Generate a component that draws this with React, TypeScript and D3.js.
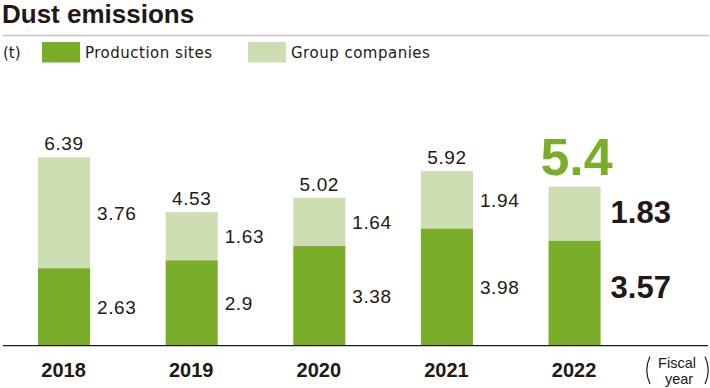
import React from 'react';
import * as d3 from 'd3';

// Fiscal years and series values (t)
const years = ['2018', '2019', '2020', '2021', '2022'];
const productionSites = [2.63, 2.9, 3.38, 3.98, 3.57];
const groupCompanies = [3.76, 1.63, 1.64, 1.94, 1.83];
const totals = ['6.39', '4.53', '5.02', '5.92', '5.4'];

const seriesNames = ['Production sites', 'Group companies'];
const seriesColors = ['#7aae2a', '#cddfb2'];

const ink = '#231815';
const numFont = '"Liberation Sans", Arial, sans-serif';
const labelFont = '"DejaVu Sans", Verdana, sans-serif';

function App() {
  const width = 710;
  const height = 388;
  const baseline = 345.7;

  const x = d3
    .scaleBand<string>()
    .domain(years)
    .range([38, 600.6])
    .paddingInner(0.592)
    .paddingOuter(0);

  const y = d3.scaleLinear().domain([0, 7]).range([baseline, baseline - 7 * 29.48]);

  const rows = years.map((yr, i) => ({
    year: yr,
    production: productionSites[i],
    group: groupCompanies[i],
  }));

  const stacked = d3.stack<any>().keys(['production', 'group'])(rows);
  const last = years.length - 1;

  return (
    <svg
      width={width}
      height={height}
      style={{ position: 'absolute', left: 0, top: 0, background: '#fff' }}
    >
      {/* Title */}
      <text x={2} y={23} fontFamily={numFont} fontWeight="bold" fontSize={26} fill={ink}>
        Dust emissions
      </text>
      <line x1={3} x2={709} y1={35.5} y2={35.5} stroke="#c9c5c5" strokeWidth={1.5} />

      {/* Legend */}
      <text x={3} y={58} fontFamily={labelFont} fontSize={15} fill={ink}>
        (t)
      </text>
      {seriesNames.map((name, i) => (
        <g key={name} transform={`translate(${42 + i * 206},42)`}>
          <rect width={38} height={20.5} fill={seriesColors[i]} />
          <text x={43} y={16} fontFamily={labelFont} fontSize={15} letterSpacing={0.5} fill={ink}>
            {name}
          </text>
        </g>
      ))}

      {/* Stacked bars */}
      {stacked.map((layer, li) => (
        <g key={layer.key}>
          {layer.map((d, i) => (
            <rect
              key={years[i]}
              x={x(years[i])}
              y={y(d[1])}
              width={x.bandwidth()}
              height={y(d[0]) - y(d[1])}
              fill={seriesColors[li]}
            />
          ))}
        </g>
      ))}

      {/* Segment value labels */}
      {stacked.map((layer, li) =>
        layer.map((d, i) => {
          const isLast = i === last;
          const values = li === 0 ? productionSites : groupCompanies;
          const mid = (y(d[0]) + y(d[1])) / 2;
          const shift = isLast ? (li === 0 ? -6 : -2) : 0;
          return (
            <text
              key={`${layer.key}-${i}`}
              x={(x(years[i]) as number) + x.bandwidth() + (isLast ? 10 : 7)}
              y={mid + shift}
              dy="0.36em"
              fontFamily={numFont}
              fontSize={isLast ? 31 : 19}
              fontWeight={isLast ? 'bold' : 'normal'}
              letterSpacing={isLast ? 0 : 0.6}
              fill={ink}
            >
              {String(values[i])}
            </text>
          );
        })
      )}

      {/* Total labels */}
      {totals.map((t, i) => {
        const isLast = i === last;
        const top = y(productionSites[i] + groupCompanies[i]);
        return (
          <text
            key={`total-${i}`}
            x={(x(years[i]) as number) + x.bandwidth() / 2 + (isLast ? 2 : 0)}
            y={top - (isLast ? 11.5 : 7)}
            textAnchor="middle"
            fontFamily={numFont}
            fontSize={isLast ? 52 : 19}
            fontWeight={isLast ? 'bold' : 'normal'}
            letterSpacing={isLast ? 0 : 0.6}
            fill={isLast ? seriesColors[0] : ink}
          >
            {t}
          </text>
        );
      })}

      {/* Baseline */}
      <line x1={3} x2={708} y1={baseline} y2={baseline} stroke={ink} strokeWidth={1.3} />

      {/* Year labels */}
      {years.map((yr) => (
        <text
          key={yr}
          x={(x(yr) as number) + x.bandwidth() / 2 - 0.5}
          y={377}
          textAnchor="middle"
          fontFamily={numFont}
          fontWeight="bold"
          fontSize={20}
          fill={ink}
        >
          {yr}
        </text>
      ))}

      {/* Fiscal year unit */}
      <path d="M650,356.5 Q643.5,370 650,384" fill="none" stroke={ink} strokeWidth={1.2} />
      <path d="M705,356.5 Q711.5,370 705,384" fill="none" stroke={ink} strokeWidth={1.2} />
      <text x={677} y={368} textAnchor="middle" fontFamily={numFont} fontSize={14.5} fill={ink}>
        Fiscal
      </text>
      <text x={679} y={383.5} textAnchor="middle" fontFamily={numFont} fontSize={14.5} fill={ink}>
        year
      </text>
    </svg>
  );
}

export default App;
